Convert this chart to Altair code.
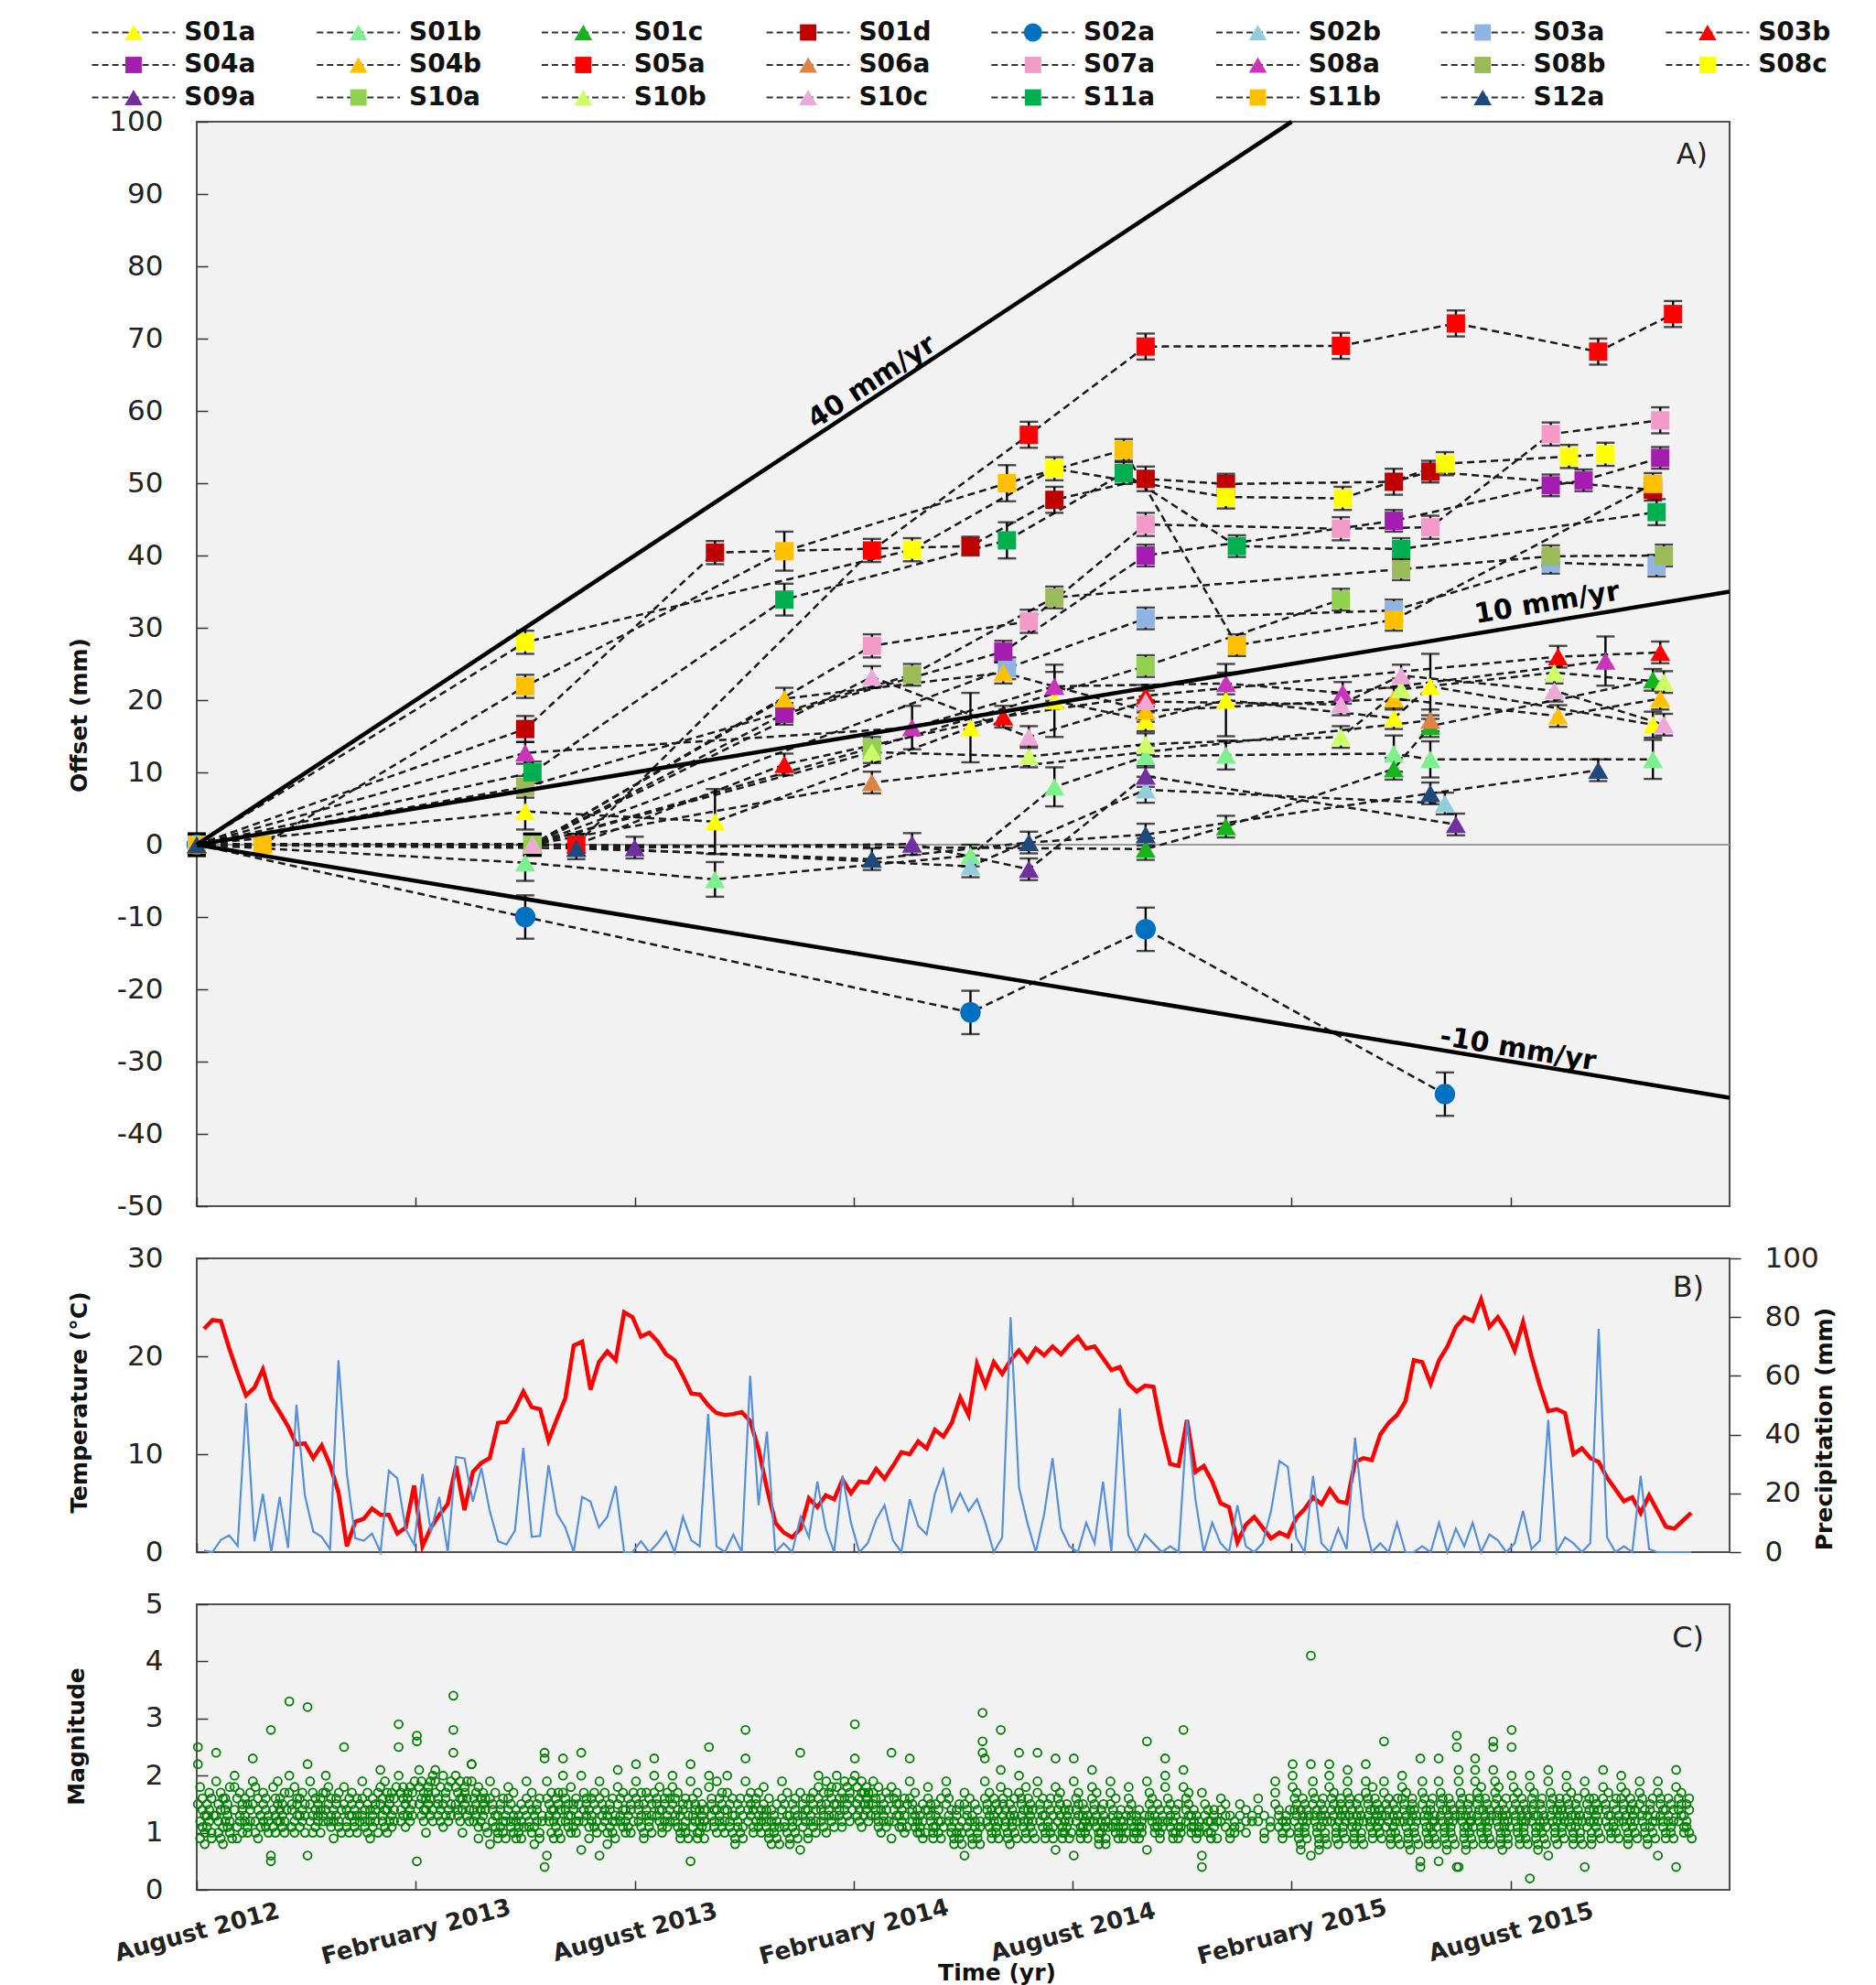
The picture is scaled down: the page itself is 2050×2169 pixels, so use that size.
import math
import altair as alt
import pandas as pd

# ---------------- Panel A : sites (time = months since August 2012) ----------------
SERIES = ["S01a", "S01b", "S01c", "S01d", "S02a", "S02b", "S03a", "S03b",
          "S04a", "S04b", "S05a", "S06a", "S07a", "S08a", "S08b", "S08c",
          "S09a", "S10a", "S10b", "S10c", "S11a", "S11b", "S12a"]
COLORS = ["#FFFF00", "#7CF08C", "#13B51B", "#C00000", "#0070C0", "#92CDDC", "#8DB4E2", "#FF0000",
          "#A51DB0", "#FFC000", "#FF0000", "#DE8343", "#F49AC8", "#CC33BB", "#9BBB59", "#FFFF00",
          "#7030A0", "#92D050", "#CCFF66", "#EEA8D8", "#00B050", "#FFC000", "#1F497D"]
SHAPES = ["triangle-up", "triangle-up", "triangle-up", "square", "circle", "triangle-up", "square", "triangle-up",
          "square", "triangle-up", "square", "triangle-up", "square", "triangle-up", "square", "square",
          "triangle-up", "square", "triangle-up", "triangle-up", "square", "square", "triangle-up"]

T_S01a = [0, 9.0, 14.2, 21.2, 23.5, 26.0, 28.2, 32.8, 33.8, 39.9]
V_S01a = [0, 4.6, 3.2, 16.2, 19.9, 17.2, 20.0, 17.5, 21.9, 16.6]
E_S01a = [1.5, 2.5, 4.5, 4.8, 5.0, 1.5, 5.0, 1.5, 4.5, 1.8]
T_S01b = [0, 9.0, 14.2, 21.2, 23.5, 26.0, 28.2, 32.8, 33.8, 39.9]
V_S01b = [0, -2.5, -4.8, -1.5, 8.0, 12.2, 12.4, 12.6, 11.8, 11.8]
E_S01b = [1.5, 2.5, 2.4, 1.5, 2.7, 1.5, 2.0, 2.5, 2.5, 2.7]
T_S01c = [0, 9.2, 26.0, 28.2, 32.8, 33.8, 39.9]
V_S01c = [0, 0, -0.6, 2.5, 10.5, 16.4, 22.8]
E_S01c = [1.5, 1.5, 1.5, 1.5, 1.5, 1.5, 1.5]
T_S01d = [0, 9.0, 14.2, 21.2, 23.5, 26.0, 28.2, 32.8, 33.8, 39.9]
V_S01d = [0, 16.0, 40.4, 41.3, 47.7, 50.6, 49.9, 50.2, 51.6, 49.1]
E_S01d = [1.5, 1.8, 1.6, 1.3, 1.8, 1.7, 1.4, 1.8, 1.5, 1.5]
T_S02a = [0, 9.0, 21.2, 26.0, 34.2]
V_S02a = [0, -10.0, -23.2, -11.7, -34.5]
E_S02a = [1.5, 3.0, 3.0, 3.0, 3.0]
T_S02b = [0, 9.2, 21.2, 26.0, 34.2]
V_S02b = [0, 0, -3.0, 7.6, 5.7]
E_S02b = [1.5, 1.5, 1.5, 1.8, 1.5]
T_S03a = [0, 9.2, 22.2, 26.0, 32.8, 37.1, 40.0]
V_S03a = [0, 0, 24.4, 31.3, 32.4, 39.0, 38.6]
E_S03a = [1.5, 1.5, 1.5, 1.5, 1.5, 1.5, 1.5]
T_S03b = [0, 10.4, 16.1, 22.1, 26.0, 37.3, 40.1]
V_S03b = [0, 0, 11.1, 17.7, 20.6, 26.0, 26.6]
E_S03b = [1.5, 1.5, 1.5, 1.5, 1.5, 1.5, 1.5]
T_S04a = [0, 9.2, 16.1, 22.1, 26.0, 32.8, 37.1, 38.0, 40.1]
V_S04a = [0, 0, 18.1, 26.7, 40.0, 44.8, 49.7, 50.4, 53.5]
E_S04a = [1.5, 1.5, 1.5, 1.5, 1.5, 1.5, 1.5, 1.5, 1.5]
T_S04b = [0, 9.2, 16.1, 22.1, 26.0, 32.8, 37.3, 40.1]
V_S04b = [0, 0, 20.2, 23.8, 18.5, 20.2, 17.8, 20.2]
E_S04b = [1.5, 1.5, 1.5, 1.5, 1.5, 1.5, 1.5, 1.5]
T_S05a = [0, 10.4, 18.5, 22.8, 26.0, 31.35, 34.5, 38.4, 40.45]
V_S05a = [0, 0, 40.7, 56.7, 68.9, 69.0, 72.1, 68.2, 73.4]
E_S05a = [1.5, 1.5, 1.6, 1.8, 1.8, 1.8, 1.8, 1.8, 1.8]
T_S06a = [0, 9.2, 18.5, 33.8]
V_S06a = [0, 0, 8.6, 17.2]
E_S06a = [1.5, 1.5, 1.5, 1.5]
T_S07a = [0, 9.2, 18.5, 22.8, 26.0, 31.35, 33.8, 37.1, 40.1]
V_S07a = [0, 0, 27.5, 30.9, 44.3, 43.7, 43.9, 56.8, 58.7]
E_S07a = [1.5, 1.5, 1.6, 1.6, 1.6, 1.6, 1.6, 1.6, 1.8]
T_S08a = [0, 9.0, 19.6, 23.5, 28.2, 31.4, 38.6]
V_S08a = [0, 12.7, 16.2, 21.9, 22.3, 21.0, 25.4]
E_S08a = [1.5, 1.5, 3.0, 2.0, 1.5, 1.5, 3.4]
T_S08b = [0, 9.0, 19.6, 23.5, 33.0, 37.1, 40.2]
V_S08b = [0, 8.0, 23.5, 34.2, 38.1, 39.9, 40.0]
E_S08b = [1.5, 1.5, 1.5, 1.5, 1.5, 1.5, 1.5]
T_S08c = [0, 9.0, 19.6, 23.5, 28.2, 31.4, 34.2, 37.6, 38.6]
V_S08c = [0, 28.0, 40.8, 52.0, 48.1, 47.9, 52.7, 53.7, 54.0]
E_S08c = [1.5, 1.6, 1.6, 1.6, 1.6, 1.6, 1.6, 1.6, 1.6]
T_S09a = [0, 9.2, 12.0, 19.6, 22.8, 26.0, 34.5]
V_S09a = [0, 0, -0.4, 0.1, -3.4, 9.5, 2.8]
E_S09a = [1.5, 1.5, 1.5, 1.5, 1.5, 1.5, 1.5]
T_S10a = [0, 9.2, 18.5, 26.0, 31.35]
V_S10a = [0, 0, 13.4, 24.7, 33.9]
E_S10a = [1.5, 1.5, 1.5, 1.5, 1.5]
T_S10b = [0, 9.2, 18.5, 22.8, 26.0, 31.35, 33.0, 37.2, 40.2]
V_S10b = [0, 0, 12.8, 12.2, 13.9, 14.9, 21.5, 23.8, 22.5]
E_S10b = [1.5, 1.5, 1.5, 1.5, 1.5, 1.5, 1.5, 1.5, 1.5]
T_S10c = [0, 9.2, 18.5, 22.8, 26.0, 31.35, 33.0, 37.2, 40.2]
V_S10c = [0, 0, 23.2, 14.9, 19.8, 19.4, 23.4, 21.3, 16.6]
E_S10c = [1.5, 1.5, 1.5, 1.5, 1.5, 1.5, 1.5, 1.5, 1.5]
T_S11a = [0, 9.2, 16.1, 22.2, 25.4, 28.5, 33.0, 40.0]
V_S11a = [0, 10.0, 33.9, 42.1, 51.4, 41.3, 40.9, 46.0]
E_S11a = [1.5, 1.5, 2.2, 2.5, 1.5, 1.5, 1.5, 1.8]
T_S11b = [0, 1.8, 9.0, 16.1, 22.2, 25.4, 28.5, 32.8, 39.9]
V_S11b = [0, 0, 21.9, 40.6, 50.0, 54.6, 27.6, 31.1, 49.9]
E_S11b = [1.5, 1.0, 1.6, 2.7, 2.5, 1.5, 1.5, 1.5, 1.5]
T_S12a = [0, 10.4, 18.5, 22.8, 26.0, 33.8, 38.4]
V_S12a = [0, -0.5, -2.0, 0.3, 1.4, 7.1, 10.3]
E_S12a = [1.5, 1.5, 1.5, 1.5, 1.5, 1.5, 1.5]

RATES = [40, 10, -10]
RATE_LABELS = ["40 mm/yr", "10 mm/yr", "-10 mm/yr"]
RATE_LABEL_T = [18.5, 37.0, 36.2]
RATE_LABEL_V = [64.0, 33.4, -28.3]

TICK_MONTHS = [0, 6, 12, 18, 24, 30, 36]
TICK_LABELS = ["August 2012", "February 2013", "August 2013", "February 2014",
               "August 2014", "February 2015", "August 2015"]

# ---------------- Panel B : weekly temperature and precipitation ----------------
WEEK_START = 0.2
WEEK_STEP = 0.2302
TEMP = [22.8, 23.7, 23.6, 20.8, 18.3, 16.0, 16.8, 18.65, 15.7, 14.3, 12.85, 11.0, 11.1, 9.6, 10.9, 8.9,
        6.1, 0.6, 3.1, 3.4, 4.45, 3.8, 3.8, 1.9, 2.5, 6.8, 0.6, 2.5, 3.8, 4.9, 8.8, 4.3, 8.2, 9.1, 9.6,
        13.2, 13.3, 14.6, 16.4, 14.8, 14.6, 11.4, 13.6, 15.7, 21.1, 21.5, 16.6, 19.4, 20.5, 19.6, 24.5,
        24.0, 22.0,
        22.4, 21.5, 20.2, 19.6, 18.0, 16.2, 16.1, 15.0, 14.2, 14.0, 14.1, 14.3, 13.4, 10.5, 6.5, 3.0,
        2.0, 1.5, 2.4, 5.5, 4.6, 5.8, 5.4, 7.4, 6.0, 7.2, 7.1, 8.5, 7.5, 8.8, 10.2, 10.0, 11.3, 10.6,
        12.5, 11.8, 13.2, 15.8, 14.0, 19.2, 17.0, 19.4, 18.2, 19.6, 20.6, 19.5, 20.8, 20.1, 21.0, 20.2,
        21.2, 22.0, 20.8, 21.0, 19.8, 18.6, 18.9, 17.2, 16.4, 17.0, 16.9, 12.5, 9.0, 8.8, 13.5, 8.2,
        8.8, 7.2, 5.0, 4.6, 1.0, 2.8, 3.6, 2.5, 1.4, 2.0, 1.6, 3.5, 4.4, 5.6, 4.9, 6.4, 5.2, 5.0, 9.2,
        9.6, 9.4, 12.0, 13.2, 14.0, 15.4, 19.6, 19.4, 17.2, 19.6, 21.0, 23.0, 24.0, 23.6, 25.8, 23.0,
        24.0, 22.6, 20.6, 23.5, 20.0, 17.0, 14.4, 14.6, 14.2, 10.0, 10.6, 9.6, 9.2, 7.6, 6.4, 5.2, 5.6,
        4.0, 5.8, 4.2, 2.6, 2.4, 3.2, 4.0]
PRECIP = [0.5, 0, 4.2, 5.7, 2.1, 50.7, 3.7, 19.9, 0, 18.8, 1.4, 50.2, 19.3, 7.0, 5.2, 1.0, 65.3, 26.6,
          4.7, 3.9, 6.3, 0, 27.7, 25.1, 7.8, 2.6, 26.6, 6.8, 18.8, 0, 32.4, 31.9, 17.2, 28.7, 14.1, 3.7,
          2.6, 7.3, 35.5, 5.2, 5.5, 29.6, 13.1, 8.4, 0, 18.8, 17.2, 8.4, 12.0, 22.5, 0, 0, 3.7,
          0, 3, 7, 0, 12, 4, 2, 47, 2, 0, 6, 0, 60, 16, 41, 0, 3, 0, 12, 5, 24, 8, 0, 26, 10, 0, 3,
          11, 16, 4, 0, 18, 9, 6, 20, 28, 14, 20, 14, 18, 10, 0, 5, 80, 22, 10, 0, 13, 32, 8, 2, 0,
          10, 3, 24, 0, 49, 6, 0, 6, 3, 0, 2, 0, 45, 18, 0, 10, 3, 0, 16, 2, 0, 3, 14, 31, 29, 5, 0,
          26, 3, 0, 8, 1, 39, 12, 0, 3, 0, 10, 0, 0, 2, 0, 10, 0, 8, 2, 10, 0, 6, 4, 0, 3, 14, 1, 4,
          45, 0, 5, 3, 0, 3, 76, 5, 0, 2, 0, 26, 1, 0, 0, 0, 0, 0]

# ---------------- Panel C : event magnitudes (tenths), one string per half month ----------------
MAG_BINS = [
    "25 22 15 12 18 09 14 11 16 13 10 08", "24 19 13 10 15 12 17 09 14 11 16 08",
    "20 18 14 11 09 16 13 12 17 10 15", "23 19 15 12 10 18 14 09 16 13 11",
    "28 05 06 18 14 11 16 13 10 12 19 15", "33 20 17 14 11 15 12 18 10 13 16",
    "32 22 06 19 15 12 17 13 10 14 16", "20 17 14 12 18 15 11 13 16 09",
    "25 18 15 12 14 11 16 13 10 17", "19 16 13 11 14 12 17 10 15 09",
    "21 18 15 13 16 12 14 11 19 10 17", "29 25 20 17 14 12 16 13 18 15 11",
    "27 26 05 21 18 15 13 19 16 14 12 17 10", "21 19 17 15 13 16 14 18 12 20 11",
    "34 28 24 20 18 15 13 17 14 19 16 12 10", "22 22 19 16 14 12 17 15 13 18 11 09",
    "19 08 16 14 12 15 13 17 11 10 09", "18 16 14 12 15 11 13 17 10 09",
    "19 16 13 11 15 12 14 17 10 08", "24 23 04 06 19 16 13 15 12 17 14 10 09",
    "23 20 17 14 12 16 13 15 11 18 10", "24 07 20 17 14 12 16 13 15 11 09",
    "06 19 16 13 11 15 12 14 17 10 08", "21 18 15 13 16 12 14 11 17 10",
    "22 19 16 14 12 15 13 17 11 10 09", "23 20 17 15 13 16 14 12 18 11 10",
    "20 18 15 13 16 12 14 11 17 10 09", "22 05 19 16 13 11 15 12 14 17 10 09",
    "25 20 18 15 13 16 12 14 11 19 10", "20 17 14 12 15 11 13 16 10 09 08",
    "28 23 19 16 14 12 15 13 17 11 10", "18 15 13 11 14 12 16 10 09 08",
    "19 16 14 12 15 11 13 17 10 09 08", "24 07 17 15 13 11 14 12 16 10 09",
    "20 18 16 14 12 15 13 17 11 19 10", "20 18 15 13 16 14 12 17 11 19",
    "29 23 20 18 15 13 16 14 12 17 11 19", "19 17 15 13 16 14 12 18 11 10",
    "24 09 18 16 14 12 15 13 17 11", "23 19 16 14 12 15 13 17 11 10",
    "18 16 14 12 15 13 11 09 10", "19 17 15 13 16 12 14 11 10 09 08",
    "06 17 15 13 11 14 12 16 10 09 08", "31 26 24 23 19 16 14 12 15 13 17 11 10 09",
    "28 21 18 15 13 16 12 14 11 17 10 09 08", "24 20 17 15 13 16 12 14 11 18 10 09",
    "24 19 17 14 12 15 13 16 11 10 09", "23 07 18 16 14 12 15 13 17 11 10 09",
    "23 06 19 16 14 12 15 13 17 11 10 09", "21 18 16 14 12 15 13 17 11 10 09 08",
    "19 17 15 13 11 14 12 16 10 09", "18 16 14 12 15 13 11 10 09",
    "26 07 19 17 15 13 16 12 14 11 10", "23 20 18 16 14 12 15 13 11 10 09",
    "28 21 18 16 14 12 15 13 17 11 10", "04 06 17 15 13 11 14 12 10 09",
    "16 14 12 15 13 11 10 09", "15 13 11 14 12 10",
    "16 14 12 10 13 09", "19 17 15 13 11 14 12 10 09",
    "22 20 18 16 14 12 15 13 17 11 10 09 08 07", "41 22 06 19 17 15 13 16 12 14 11 10 09 08 07",
    "22 20 18 16 14 12 15 13 17 11 10 09 08", "21 19 17 15 13 16 12 14 11 10 09 08",
    "22 19 17 15 13 16 12 14 11 18 10 09", "26 19 17 15 13 11 14 12 16 10 09 08",
    "20 18 16 14 12 15 13 17 11 10 09 08 07", "23 04 05 19 17 15 13 16 12 14 11 10 09 08",
    "23 05 19 17 15 13 16 12 14 11 10 09 08 07", "27 25 04 04 21 19 17 15 13 16 12 14 11 10 09 08 07",
    "23 21 19 17 15 13 16 12 14 11 18 10 09 08", "26 25 21 19 17 15 13 16 12 14 11 18 10 09 08 07",
    "28 25 20 18 16 14 12 15 13 17 11 10 09 08", "02 20 18 16 14 12 15 13 17 11 10 09 08 07",
    "06 21 19 17 15 13 16 12 14 11 10 09 08", "20 18 16 14 12 15 13 17 11 10 09 08",
    "04 19 17 15 13 11 14 12 16 10 09 08", "21 18 16 14 12 15 13 17 11 10 09",
    "20 18 16 14 12 15 13 17 11 10 09 08", "19 17 15 13 16 12 14 11 10 09 08",
    "06 19 17 15 13 16 12 14 11 10 09", "21 04 18 16 14 12 15 13 17 11 10",
]
MAG_BINS_MORE = [
    "13 15 11 17 12 14 09 16 10 13", "12 14 16 11 13 15 10 12 18 09", "14 12 16 13 11 15 10 17 12 14",
    "13 15 12 17 11 14 16 10 13 12", "12 14 16 13 11 15 17 12 10 14", "15 13 11 16 14 12 17 10 13 15",
    "11 13 15 12 14 16 10 13 17 12", "14 12 16 13 15 11 17 12 14 10", "13 15 11 14 12 16 10 13 15 12",
    "12 14 16 11 13 15 12 14 10 17", "14 16 12 15 13 17 11 14 16 12 18", "15 17 13 16 14 18 12 15 17 13 19",
    "16 14 18 15 17 13 19 16 14 20 12", "15 17 13 16 14 18 12 15 19 13", "16 14 18 15 17 13 19 16 12 14",
    "14 16 12 15 13 17 11 14 16 10", "13 15 11 14 12 16 10 13 09 12", "12 14 10 13 11 15 09 12 14 11",
    "13 11 15 12 14 10 16 09 13 12", "14 12 16 13 11 15 10 17 12 14 09", "13 15 11 14 12 16 10 13 15 12",
    "14 12 16 13 15 11 17 12 10 14", "13 15 11 14 12 16 10 13 09 12", "14 12 16 13 11 15 10 14 12 17",
    "15 13 17 14 12 16 11 15 13 10", "14 16 12 15 13 17 11 14 16 12", "13 15 11 14 12 16 10 13 15 09",
    "12 14 10 13 11 15 09 12 14 11", "14 12 16 13 15 11 17 12 14 10", "13 11 15 12 14 10 16 09 13 11",
    "14 16 12 15 13 17 11 14 10 12", "12 14 10 13 11 15 09 12 08 11", "13 11 15 12 14 10 16 09 13 12",
    "14 12 16 13 15 11 17 10 12 14", "15 13 17 14 16 12 18 11 15 13", "16 14 18 15 13 17 12 16 14 19",
    "15 17 13 16 14 18 12 15 17 13", "14 16 12 15 13 17 11 14 16 12", "13 15 11 14 12 16 10 13 15 11",
    "12 14 10 13 11 15 09 12 14 10", "13 11 15 12 14 10 16 09 12 11", "12 14 10 13 11 15 09 12 08 10",
    "13 11 15 12 14 10 09 12 08 11", "14 12 16 13 15 11 10 14 12 09", "13 15 11 14 12 16 10 13 09 12",
    "14 12 16 13 11 15 10 14 12 09", "13 11 15 12 14 10 16 09 13 11", "12 14 10 13 11 15 09 12 14 10",
    "13 11 15 12 14 10 09 13 11 12", "12 14 10 13 11 15 09 12 08 11", "13 11 12 14 10 09 12 11 10 13",
    "12 10 13 11 14 09 12 10 11 13", "13 11 15 12 14 10 09 12 11 13", "12 14 10 13 11 15 09 12 10 11",
    "13 11 12 14 10 09 13 11 12 10", "12 10 13 11 14 09 12", "13 11 12 10", "12 13", "11 12",
    "13 11 12 14 10", "14 12 16 13 11 15 10 14 12 09 13", "13 15 11 14 12 16 10 13 09 12 08",
    "14 12 16 13 15 11 10 14 12 09 13", "13 15 11 14 12 16 10 13 09 12 08", "14 12 16 13 11 15 10 14 12 09 13",
    "13 11 15 12 14 10 16 09 13 12 08", "14 12 16 13 15 11 10 14 12 09 13 08",
    "13 15 11 14 12 16 10 13 09 12 08 11", "14 12 16 13 11 15 10 14 12 09 13 08",
    "13 15 11 14 12 16 10 13 09 12 08 11", "14 12 16 13 15 11 10 14 12 09 13 08",
    "13 15 11 14 12 16 10 13 09 12 08 11", "14 12 16 13 11 15 10 14 12 09 13 08",
    "13 11 15 12 14 10 16 09 13 12 08 11", "14 12 16 13 15 11 10 14 12 09 13",
    "13 15 11 14 12 16 10 13 09 12 08", "14 12 16 13 11 15 10 14 12 09", "13 11 15 12 14 10 16 09 13 12",
    "14 12 16 13 15 11 10 14 12 09", "13 15 11 14 12 16 10 13 09 12", "14 12 16 13 11 15 10 14 12 09",
    "13 11 15 12 14 10 16 09",
]

# ---------------- build tables ----------------
SITE_DATA = {
    "S01a": (T_S01a, V_S01a, E_S01a), "S01b": (T_S01b, V_S01b, E_S01b), "S01c": (T_S01c, V_S01c, E_S01c),
    "S01d": (T_S01d, V_S01d, E_S01d), "S02a": (T_S02a, V_S02a, E_S02a), "S02b": (T_S02b, V_S02b, E_S02b),
    "S03a": (T_S03a, V_S03a, E_S03a), "S03b": (T_S03b, V_S03b, E_S03b), "S04a": (T_S04a, V_S04a, E_S04a),
    "S04b": (T_S04b, V_S04b, E_S04b), "S05a": (T_S05a, V_S05a, E_S05a), "S06a": (T_S06a, V_S06a, E_S06a),
    "S07a": (T_S07a, V_S07a, E_S07a), "S08a": (T_S08a, V_S08a, E_S08a), "S08b": (T_S08b, V_S08b, E_S08b),
    "S08c": (T_S08c, V_S08c, E_S08c), "S09a": (T_S09a, V_S09a, E_S09a), "S10a": (T_S10a, V_S10a, E_S10a),
    "S10b": (T_S10b, V_S10b, E_S10b), "S10c": (T_S10c, V_S10c, E_S10c), "S11a": (T_S11a, V_S11a, E_S11a),
    "S11b": (T_S11b, V_S11b, E_S11b), "S12a": (T_S12a, V_S12a, E_S12a),
}
SIZE_BY_SHAPE = {"square": 400, "triangle-up": 480, "circle": 500}

rows = []
for name, shape in zip(SERIES, SHAPES):
    ts, vs, es = SITE_DATA[name]
    for t, v, e in zip(ts, vs, es):
        rows.append({"series": name, "t": t, "v": v, "lo": v - e, "hi": v + e,
                     "sz": SIZE_BY_SHAPE[shape]})
pts = pd.DataFrame(rows)

W = 1675
HA, HB, HC = 1185, 321, 312
HLEG = 60.5
GAP = 57
T_MAX = 42
FONT = "DejaVu Sans"

ref_rows = []
for r in RATES:
    t_end = min(T_MAX, 12 * 100 / r) if r > 0 else min(T_MAX, 12 * -50 / r)
    ref_rows += [{"rate": r, "t": 0, "v": 0}, {"rate": r, "t": t_end, "v": r * t_end / 12}]
ref = pd.DataFrame(ref_rows)

px_month = W / T_MAX
px_mm = HA / 150
lab = pd.DataFrame({
    "txt": RATE_LABELS, "t": RATE_LABEL_T, "v": RATE_LABEL_V,
    "ang": [(-math.degrees(math.atan(r / 12 * px_mm / px_month))) % 360 for r in RATES],
})

color_scale = alt.Scale(domain=SERIES, range=COLORS)
shape_scale = alt.Scale(domain=SERIES, range=SHAPES)

x_scale = alt.Scale(domain=[0, T_MAX], nice=False, zero=False)
x_noaxis = alt.Axis(values=TICK_MONTHS, labels=False, title=None, tickSize=10, offset=-10,
                    tickColor="#333", tickWidth=1.5, grid=False, domain=False)
XA = alt.X("t:Q", scale=x_scale, axis=x_noaxis)

ya_scale = alt.Scale(domain=[-50, 100], nice=False, zero=False)
ya_axis = alt.Axis(values=list(range(-50, 101, 10)), labelExpr="'' + datum.value", title="Offset (mm)",
                   tickSize=12, offset=-12, labelPadding=37, titleX=-141, titleY=648, titleBaseline="middle")


def ya(field):
    return alt.Y(field + ":Q", scale=ya_scale, axis=ya_axis)


base_pts = alt.Chart(pts)
zero_line = alt.Chart(pd.DataFrame({"v": [0]})).mark_rule(color="#9a9a9a", strokeWidth=1.8).encode(y=ya("v"))
site_lines = base_pts.mark_line(color="#1a1a1a", strokeDash=[8, 5], strokeWidth=2.5).encode(
    x=XA, y=ya("v"), detail="series:N", order=alt.Order("t:Q"))
err_bars = base_pts.mark_rule(color="black", strokeWidth=2.4).encode(x=XA, y=ya("lo"), y2="hi:Q")
cap_lo = base_pts.mark_tick(color="black", thickness=2.4, size=20, orient="horizontal").encode(
    x=XA, y=ya("lo"))
cap_hi = base_pts.mark_tick(color="black", thickness=2.4, size=20, orient="horizontal").encode(
    x=XA, y=ya("hi"))
markers = base_pts.mark_point(filled=True, opacity=1, strokeWidth=0).encode(
    x=XA, y=ya("v"),
    color=alt.Color("series:N", scale=color_scale, legend=None),
    shape=alt.Shape("series:N", scale=shape_scale, legend=None),
    size=alt.Size("sz:Q", scale=None))
ref_lines = alt.Chart(ref).mark_line(color="black", strokeWidth=4.5).encode(x=XA, y=ya("v"), detail="rate:N")
ref_text = alt.Chart(lab).mark_text(font=FONT, fontWeight="bold", fontSize=30, color="black",
                                    align="center", baseline="middle").encode(
    x=XA, y=ya("v"), text="txt:N", angle=alt.Angle("ang:Q", scale=None))
a_label = alt.Chart(pd.DataFrame({"t": [41.4], "v": [95.4], "txt": ["A)"]})).mark_text(
    font=FONT, fontSize=32, align="right", baseline="middle", color="#222").encode(x=XA, y=ya("v"), text="txt:N")

panelA = alt.layer(zero_line, site_lines, err_bars, cap_lo, cap_hi, markers, ref_lines, ref_text,
                   a_label).properties(width=W, height=HA)

# ---------------- legend (top) ----------------
leg = pd.DataFrame({"name": SERIES, "idx": list(range(len(SERIES)))})
leg["col"] = leg["idx"] % 8
leg["row"] = leg["idx"] // 8
leg["sz"] = [SIZE_BY_SHAPE[s] * 0.8 for s in SHAPES]
COL_PX = 245.7
ROW_PX = 35.5
leg_x = alt.Scale(domain=[69 / COL_PX, 69 / COL_PX + W / COL_PX], nice=False, zero=False)
leg_y = alt.Scale(domain=[-20.5 / ROW_PX, -20.5 / ROW_PX + HLEG / ROW_PX], reverse=True, nice=False, zero=False)
leg_base = alt.Chart(leg).transform_calculate(
    x0="datum.col - 0.185", x1="datum.col + 0.185", xl="datum.col + 0.225")
leg_dash = leg_base.mark_rule(color="#333", strokeDash=[7, 4], strokeWidth=2.2).encode(
    x=alt.X("x0:Q", scale=leg_x, axis=None), x2="x1:Q", y=alt.Y("row:Q", scale=leg_y, axis=None))
leg_mark = leg_base.mark_point(filled=True, opacity=1, strokeWidth=0).encode(
    x=alt.X("col:Q", scale=leg_x, axis=None), y=alt.Y("row:Q", scale=leg_y, axis=None),
    color=alt.Color("name:N", scale=color_scale, legend=None),
    shape=alt.Shape("name:N", scale=shape_scale, legend=None),
    size=alt.Size("sz:Q", scale=None))
leg_text = leg_base.mark_text(font=FONT, fontWeight="bold", fontSize=28, align="left",
                              baseline="middle", color="#111").encode(
    x=alt.X("xl:Q", scale=leg_x, axis=None), y=alt.Y("row:Q", scale=leg_y, axis=None), text="name:N")
legend_chart = alt.layer(leg_dash, leg_mark, leg_text).properties(
    width=W, height=HLEG, view=alt.ViewBackground(fillOpacity=0, strokeOpacity=0))

# ---------------- Panel B ----------------
weeks = [WEEK_START + i * WEEK_STEP for i in range(len(TEMP))]
clim = pd.DataFrame({"t": weeks, "T": TEMP, "P": PRECIP})
t_scale = alt.Scale(domain=[0, 30], nice=False, zero=False)
temp_line = alt.Chart(clim).mark_line(color="#FF0000", strokeWidth=4.5).encode(
    x=XA,
    y=alt.Y("T:Q", scale=t_scale,
            axis=alt.Axis(values=[0, 10, 20, 30], title="Temperature (°C)", orient="left", tickSize=12,
                          offset=-12, labelPadding=37, titleX=-141, titleY=157, titleBaseline="middle")))
b_label = alt.Chart(pd.DataFrame({"t": [41.3], "T": [27.0], "txt": ["B)"]})).mark_text(
    font=FONT, fontSize=32, align="right", baseline="middle", color="#222").encode(
    x=XA, y=alt.Y("T:Q", scale=t_scale), text="txt:N")
prec_line = alt.Chart(clim).mark_line(color="#5590DC", strokeWidth=2.2).encode(
    x=XA,
    y=alt.Y("P:Q", scale=alt.Scale(domain=[0, 100], nice=False, zero=False),
            axis=alt.Axis(values=[0, 20, 40, 60, 80, 100], title="Precipitation (mm)", orient="right",
                          tickSize=12, labelPadding=26, titleX=103, titleY=186, titleAngle=270,
                          titleBaseline="middle")))
panelB = alt.layer(alt.layer(temp_line, b_label), prec_line).resolve_scale(y="independent").properties(
    width=W, height=HB)

# ---------------- Panel C ----------------
STACK = 3
mag_rows = []
for k, (s1, s2) in enumerate(zip(MAG_BINS, MAG_BINS_MORE)):
    vals = [int(x) / 10 for x in (s1 + " " + s2).split()]
    ncol = math.ceil(len(vals) / STACK)
    for j, m in enumerate(vals):
        mag_rows.append({"t": 0.5 * k + (j // STACK + 0.5) * 0.5 / ncol, "M": m})
mag = pd.DataFrame(mag_rows)

label_expr = "[" + ",".join("'%s'" % s for s in TICK_LABELS) + "][round(datum.value / 6)]"
x_lab_axis = alt.Axis(values=TICK_MONTHS, labelExpr=label_expr, title="Time (yr)", tickSize=10, offset=-10,
                      labelAngle=345, labelAlign="center", labelBaseline="middle", labelPadding=46,
                      labelFontWeight="bold", labelFontSize=26, labelFlush=False, labelOverlap=False,
                      labelLimit=400, titleX=874, titleY=88, titleBaseline="top", titleAlign="center")
m_scale = alt.Scale(domain=[0, 5], nice=False, zero=False)
mag_pts = alt.Chart(mag).mark_point(shape="circle", filled=False, color="#008000", strokeWidth=1.8,
                                    size=80, opacity=1).encode(
    x=alt.X("t:Q", scale=x_scale, axis=x_lab_axis),
    y=alt.Y("M:Q", scale=m_scale,
            axis=alt.Axis(values=[0, 1, 2, 3, 4, 5], format="d", title="Magnitude", tickSize=12, offset=-12,
                          labelPadding=37, titleX=-144, titleY=144, titleBaseline="middle")))
c_label = alt.Chart(pd.DataFrame({"t": [41.3], "M": [4.4], "txt": ["C)"]})).mark_text(
    font=FONT, fontSize=32, align="right", baseline="middle", color="#222").encode(
    x=alt.X("t:Q", scale=x_scale, axis=x_lab_axis),
    y=alt.Y("M:Q", scale=m_scale), text="txt:N")
panelC = alt.layer(mag_pts, c_label).properties(width=W, height=HC)

# ---------------- assemble ----------------
chart = alt.vconcat(legend_chart, panelA, panelB, panelC, spacing=GAP, bounds="flush").properties(
    padding={"left": 62, "top": 7, "right": 10, "bottom": 5}, background="white"
).configure_view(fill="#f2f2f2", stroke="#505050", strokeWidth=2).configure_axis(
    labelFont=FONT, labelFontSize=31, labelColor="#222", titleFont=FONT, titleFontSize=25,
    titleFontWeight="bold", titleColor="#111", grid=False, domain=False, tickColor="#333", tickWidth=1.5)

chart.save("out.html", embed_options={"renderer": "svg", "actions": False})
